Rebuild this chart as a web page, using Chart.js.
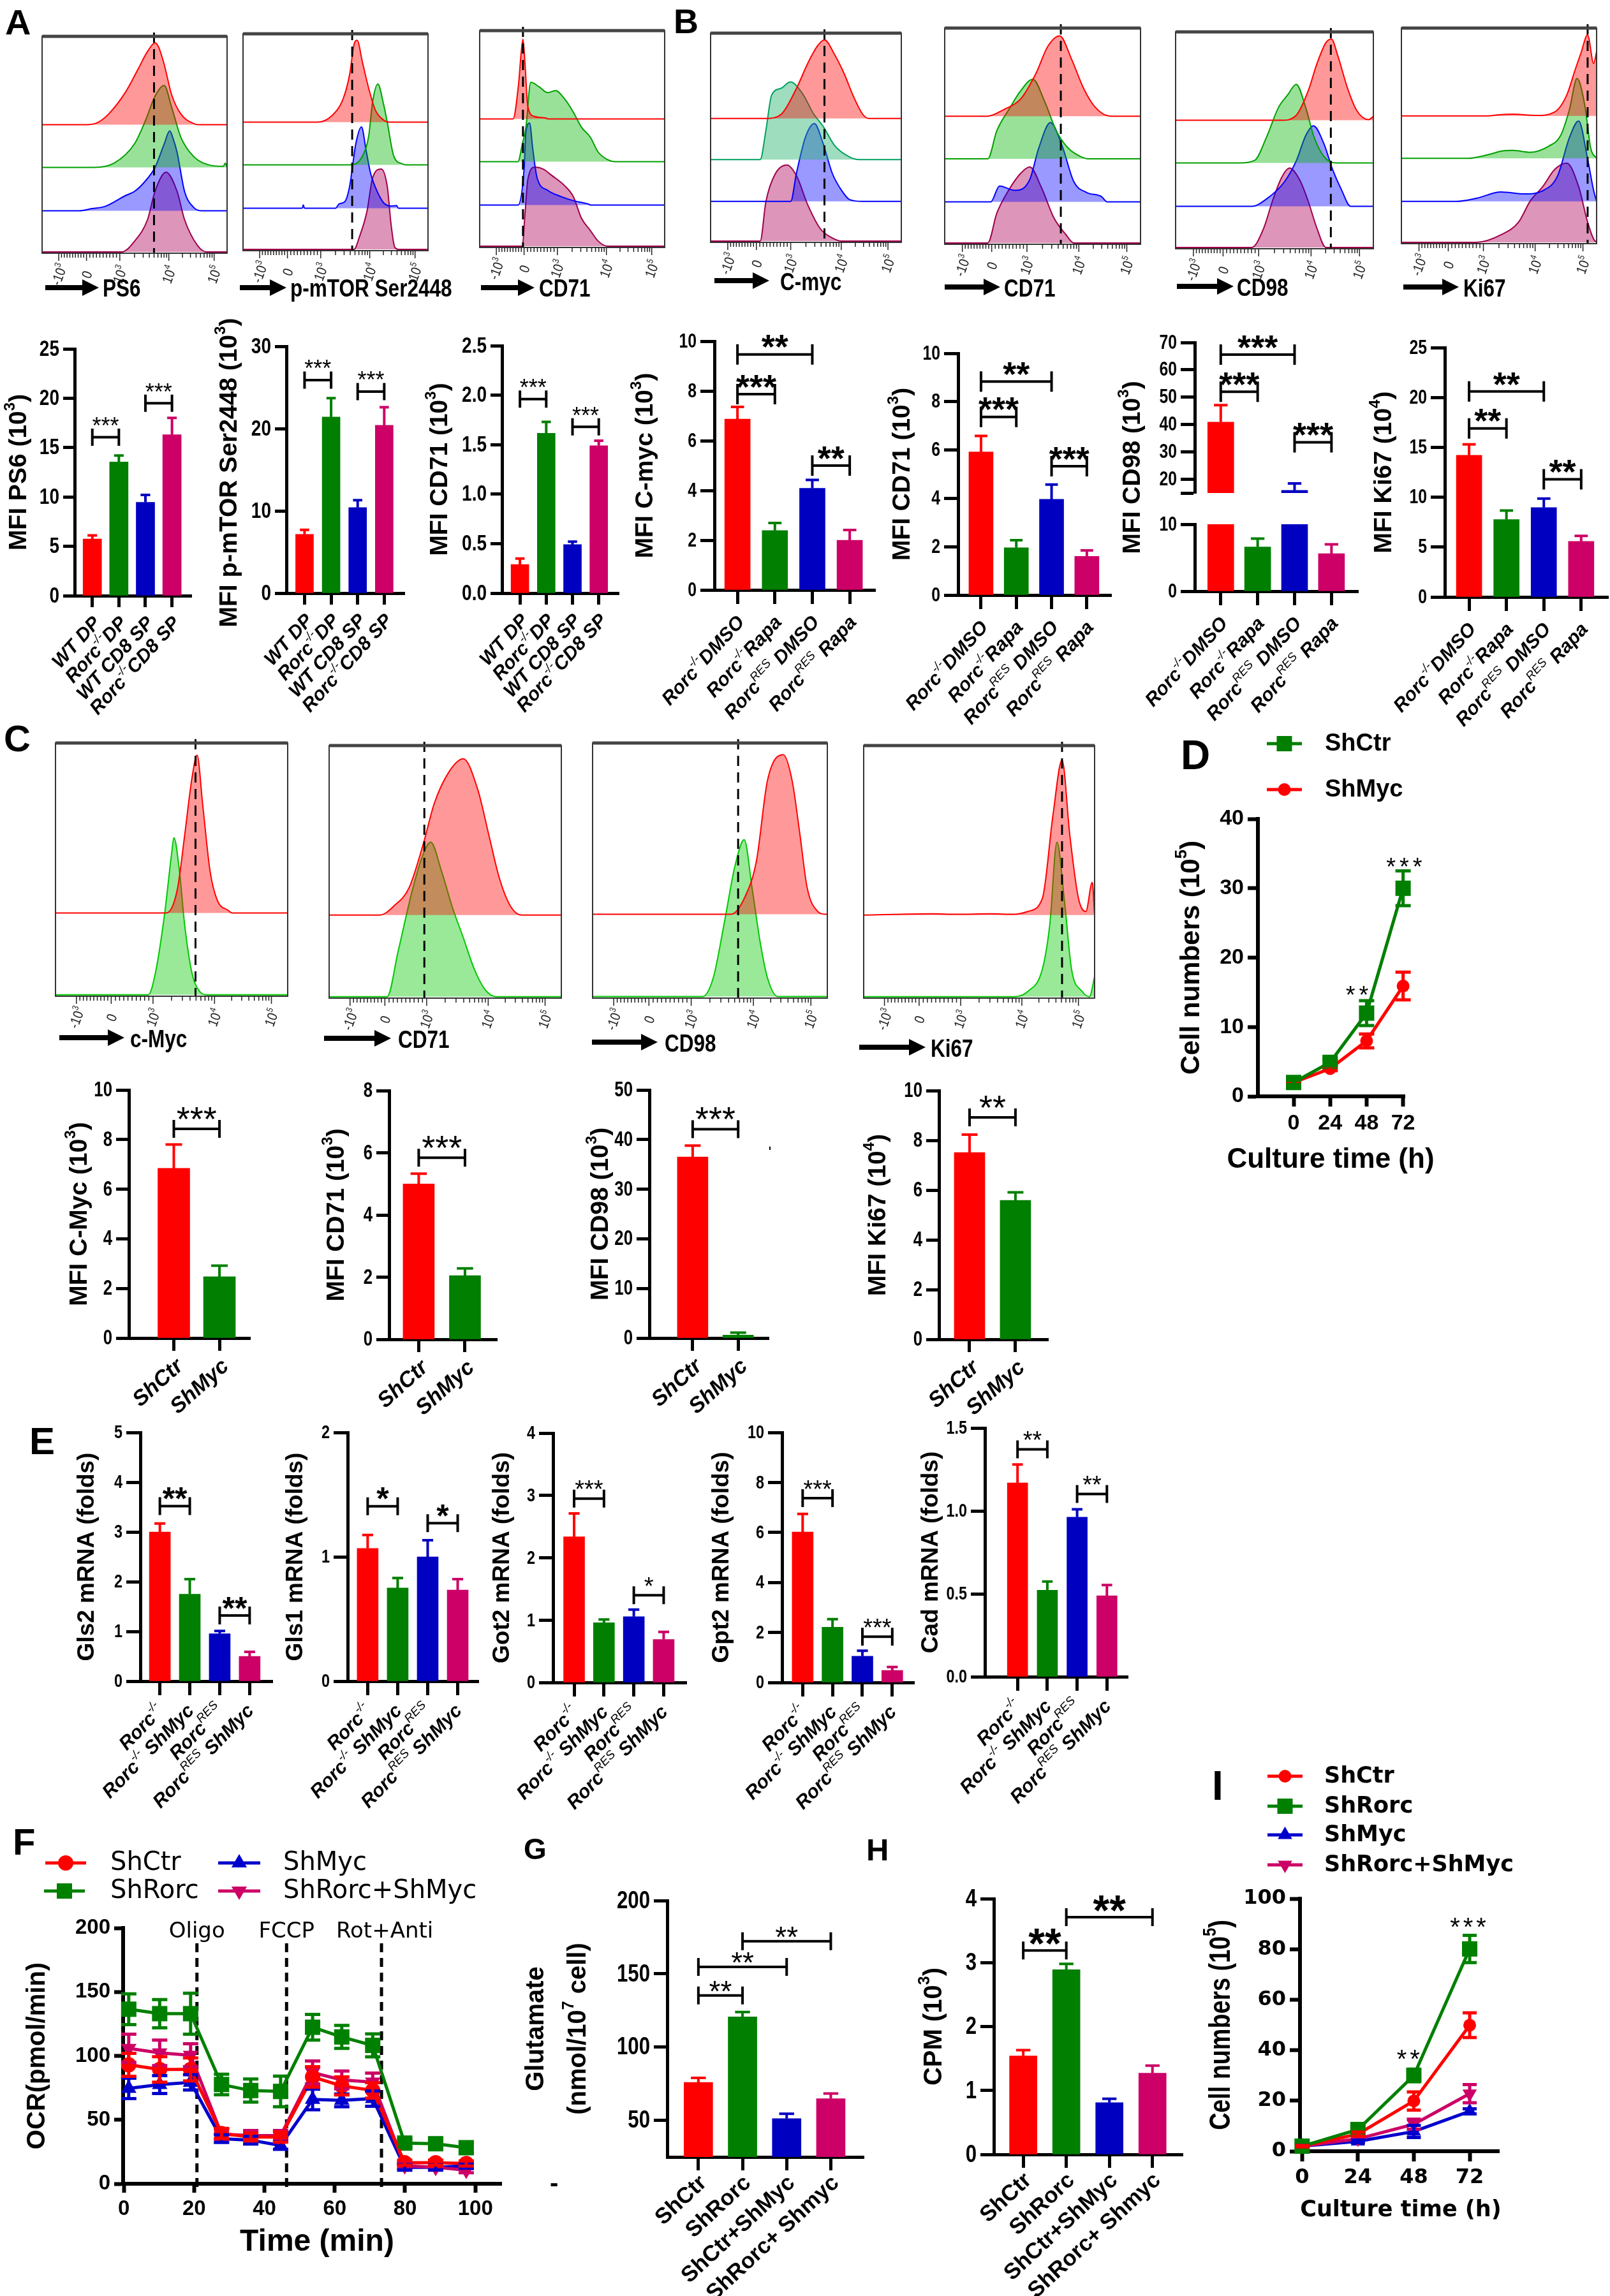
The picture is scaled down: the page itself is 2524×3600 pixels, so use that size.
<!DOCTYPE html>
<html>
<head>
<meta charset="utf-8">
<title>Rorc / Myc figure</title>
<script src="https://cdn.jsdelivr.net/npm/chart.js@4.4.1/dist/chart.umd.min.js"></script>
<style>
  html, body { margin: 0; padding: 0; background: #fff; }
  body { position: relative; width: 2524px; height: 3600px; overflow: hidden; }
  canvas { position: absolute; }
  .t { position: absolute; white-space: nowrap; line-height: 1; color: #000; }
</style>
</head>
<body>
<script>
// ================= DATA =================
// flow histograms: [x as % of frame width, height as % of frame height above the row baseline]
const flowTickLabels = ['-10^{3}', '0', '10^{3}', '10^{4}', '10^{5}'];
const flowTickPos = [9, 24, 42, 68.5, 93];

const ps6Red = [[0,0],[24,0],[30,1],[36,5],[45,15],[52,26],[57,34],[61,38],[63,36],[66,28],[70,14],[75,5],[82,0.5],[85,0],[100,0]];
const ps6Green = [[0,0],[28,0],[39,2],[50,11],[56,22],[61,33],[66,38],[70,28],[75,14],[82,5],[91,1],[98,0.5],[99,2],[100,0]];
const ps6Blue = [[0,0],[20,0],[27,1],[34,2],[45,7],[50,9],[55,13],[61,20],[66,31],[69,37],[71,33],[73,27],[77,9],[82,1.5],[86,0],[100,0]];
const ps6Pink = [[0,0],[43,0],[50,5],[57,15],[61,28],[67,37],[73,28],[77,15],[84,3],[89,0],[100,0]];

const mtorRed = [[0,0],[40,0],[48,3],[54,10.6],[57.6,22],[60,36],[61.7,38],[64.5,28],[68,15.5],[71.5,5.7],[76,1],[79,0],[100,0]];
const mtorGreen = [[0,0],[57.6,0],[64.5,4],[68,13.7],[70,29],[72.9,37.5],[76,28],[78,19.6],[81.5,4],[86,0.5],[88,0],[100,0]];
const mtorBlue = [[0,0],[32,0],[32.6,1.5],[33.2,0],[50,0],[52,2],[55,3],[57.6,10],[61,30],[64,37.7],[66.7,26],[69,16],[72.4,8],[76,2.5],[80,1],[83,1.2],[84,0],[100,0]];
const mtorPink = [[0,0],[60,0],[63,6],[67,17.6],[70,33],[74.7,37.3],[78,29],[80,11.8],[82,1],[84,0],[100,0]];

const cd71aRed = [[0,0],[18,0],[21,16],[22.4,30.5],[23.4,37],[24.5,25.6],[26,6],[29.5,1.2],[36,0.4],[37,0],[100,0]];
const cd71aGreen = [[0,0],[20.7,0],[23,8],[25,16],[27.6,36.8],[32,34.8],[36.8,32],[41,33],[46,29],[50.6,23],[55,16],[59.8,11.4],[64,4.5],[69,1],[73.5,0],[100,0]];
const cd71aBlue = [[0,0],[20.7,0],[24,16.6],[25,34],[27,38],[28.7,26],[31,12.7],[36.8,6.8],[43.7,4],[50.6,2],[58.6,0.5],[60,0],[100,0]];
const cd71aPink = [[0,0],[23,0],[24.5,15],[26,30.8],[29.9,36.7],[34.5,35.7],[39,32.8],[46,28],[50.6,23],[55,13],[59.8,7.3],[64,2.4],[69,0],[100,0]];

const cmycRed = [[0,0],[29,0],[37,2],[45,14.4],[51,26.6],[56,34.8],[59.7,37.8],[65,30.7],[70,21.6],[75,10.4],[79.6,2.2],[82.7,0],[100,0]];
const cmycGreen = [[0,0],[26,0],[29,14],[32,31],[37,34.3],[41.8,37.3],[48,32],[54,22],[59,16],[65,6.8],[73,1.2],[78,0],[100,0]];
const cmycBlue = [[0,0],[42,0],[45,13.5],[49.7,30.8],[54.4,37.4],[59,27.8],[63.8,13.5],[68.6,5.4],[73,0.8],[79.6,0],[100,0]];
const cmycPink = [[0,0],[26,0],[29,19],[34,32.5],[40,36.6],[45,31.5],[51,17.3],[57.5,6],[63.8,1.5],[68.6,0],[100,0]];

const cd71bRed = [[0,0],[22,0],[30,3],[38.8,8],[46.5,19.7],[52.6,32.4],[58.7,37.4],[64.8,26.5],[71,12.8],[77,4],[84.7,0],[100,0]];
const cd71bGreen = [[0,0],[22,0],[26.6,13],[32.7,22.8],[38.8,31.6],[45,37],[51,26.7],[57,13],[63,5],[69,1.2],[73.4,0],[100,0]];
const cd71bBlue = [[0,0],[23.5,0],[28,7.4],[35.8,5.4],[43.4,10.3],[48,25],[54,36.9],[60,26],[66,9.3],[72.5,4.4],[80,2.5],[83,0],[100,0]];
const cd71bPink = [[0,0],[22,0],[26.6,13.8],[32.7,24.6],[38.8,32.4],[43.4,35.4],[49.5,25.6],[55.7,11.8],[61.8,4],[66,0],[100,0]];

const cd98bRed = [[0,0],[53.6,0],[61,2.3],[67,13.5],[71.5,26.3],[76,36],[78.8,37.7],[82,30],[87,14.7],[91.5,4.7],[97.6,0.3],[100,1.8]];
const cd98bGreen = [[0,0],[32.4,0],[40,1.2],[46,12],[52,25.7],[56.7,31.6],[61,36.5],[65.8,25.7],[70,12],[75,3],[81,0],[100,0]];
const cd98bBlue = [[0,0],[38.5,0],[46,3.4],[55,11.3],[61,21],[65.8,32.8],[69.7,37.3],[75,29],[79.4,17],[84,7.4],[88.5,0],[100,0]];
const cd98bPink = [[0,0],[38.5,0],[44.5,8.8],[49,21.6],[53.6,32.4],[57.6,36.8],[62.7,31.4],[67,21.6],[71.5,8.8],[76,0],[100,0]];

const ki67bRed = [[0,0],[44,0],[50,0.5],[57,0.8],[69,0.2],[78.5,1.8],[84.7,9.7],[89,21.5],[92,29.4],[95.4,37.8],[98.5,24.5],[100,30]];
const ki67bGreen = [[0,0],[34,0],[44.8,1.8],[52,3.5],[57,3.7],[66,2.8],[75.5,5.7],[81.6,10.7],[86,22.5],[90,37.3],[94,24.5],[97,4.7],[100,0]];
const ki67bBlue = [[0,0],[28,0],[38.6,1.5],[51,4.4],[63,3.5],[72.4,5],[80,11.9],[86,29.6],[90.8,37.5],[95.4,19.8],[98.5,5],[100,0]];
const ki67bPink = [[0,0],[38.6,0],[51,3.5],[60,9.4],[66,19.3],[72.4,26],[78.5,34],[84.7,37],[90.8,26],[95.4,9.4],[98.5,1.5],[100,0]];

const cMycCRed = [[0,0],[47.8,0],[52.5,9.4],[55.6,30.6],[58.8,53.7],[61,62.7],[63.4,43],[66.6,16.4],[69.7,5],[74.4,1],[76,0],[100,0]];
const cMycCGreen = [[0,0],[40,0],[43,8.5],[46.9,31.4],[50,56],[51,62.4],[53.4,49],[55.6,28],[58.8,8.5],[62,1.4],[65,0],[100,0]];
const cd71CRed = [[0,0],[21.9,0],[28,3.7],[34.4,10.8],[40.6,28.5],[45.3,44.5],[51.6,57],[57.8,62.2],[64,50],[68.75,32],[73.4,14.4],[78,3.7],[82.8,0],[100,0]];
const cd71CGreen = [[0,0],[25,0],[29.7,18],[36,43],[40.6,57],[43.75,61.5],[48.4,50],[53,35.8],[57.8,23.4],[62.5,11],[67,3],[71.9,0],[100,0]];
const cd98CRed = [[0,0],[59,0],[65,7],[69.8,21],[74.5,52.7],[81.2,62.9],[85,52.7],[88.3,31.6],[91.4,10.5],[96,1],[99,0],[100,0]];
const cd98CGreen = [[0,0],[46.8,0],[51.4,7.4],[56,28.5],[60.6,51.3],[64.6,61.9],[68,42.5],[71.4,21.4],[74.5,7.4],[79,0],[100,0]];
const ki67CRed = [[0,0],[30,0.5],[40,0.3],[55,0.5],[65,0.3],[71,1.4],[77.4,6.7],[82,40],[85.9,61.7],[89.3,31.6],[93,6.7],[96.2,1.4],[99,13],[100,0]];
const ki67CGreen = [[0,0],[65,0],[71,2],[77.4,11],[80.6,28.7],[83.7,61.5],[87,37.6],[90,11],[94.7,2],[97.8,0],[100,8]];

// dashed reference lines (x in % of frame)
const flowDashA = [60.5, 59, 23.4];
const flowDashB = [59.7, 59.3, 78.5, 95.4];
const flowDashC = [60.3, 41, 62, 85.9];

// bar charts: mean, SEM, y tick values, significance [from, to, level, stars]
const grpA = ['WT DP', 'Rorc^{-/-}DP', 'WT CD8 SP', 'Rorc^{-/-}CD8 SP'];
const ps6Mean = [5.75, 13.55, 9.46, 16.3], ps6Err = [0.35, 0.65, 0.74, 1.7];
const ps6Ticks = [0, 5, 10, 15, 20, 25];
const ps6Sig = [[0, 1, 16.05, '***'], [2, 3, 19.5, '***']];
const mtorMean = [7.15, 21.4, 10.4, 20.4], mtorErr = [0.55, 2.3, 0.9, 2.2];
const mtorTicks = [0, 10, 20, 30];
const mtorSig = [[0, 1, 25.9, '***'], [2, 3, 24.5, '***']];
const cd71aMean = [0.29, 1.615, 0.49, 1.49], cd71aErr = [0.06, 0.115, 0.03, 0.05];
const cd71aTicks = [0, 0.5, 1, 1.5, 2, 2.5];
const cd71aSig = [[0, 1, 1.96, '***'], [2, 3, 1.68, '***']];

const grpB = ['Rorc^{-/-}DMSO', 'Rorc^{-/-}Rapa', 'Rorc^{RES} DMSO', 'Rorc^{RES} Rapa'];
const cmycMean = [6.87, 2.39, 4.09, 2.0], cmycErr = [0.49, 0.3, 0.33, 0.41];
const cmycTicks = [0, 2, 4, 6, 8, 10];
const cmycSig = [[0, 2, 9.47, '**'], [0, 1, 7.87, '***'], [2, 3, 5.0, '**']];
const cd71bMean = [5.92, 1.96, 3.96, 1.6], cd71bErr = [0.66, 0.31, 0.61, 0.25];
const cd71bTicks = [0, 2, 4, 6, 8, 10];
const cd71bSig = [[0, 2, 8.83, '**'], [0, 1, 7.37, '***'], [2, 3, 5.33, '***']];
const cd98bMean = [40.9, 6.6, 16.0, 5.6], cd98bErr = [6.2, 1.25, 2.5, 1.4];
const cd98bTicksLow = [0, 10], cd98bTicksHigh = [15, 20, 30, 40, 50, 60, 70];
const cd98bSig = [[0, 2, 65.6, '***'], [0, 1, 52, '***'], [2, 3, 33.5, '***']];
const ki67bMean = [14.2, 7.77, 8.96, 5.57], ki67bErr = [1.1, 0.89, 0.91, 0.56];
const ki67bTicks = [0, 5, 10, 15, 20, 25];
const ki67bSig = [[0, 2, 20.6, '**'], [0, 1, 16.9, '**'], [2, 3, 11.8, '**']];

const grpC = ['ShCtr', 'ShMyc'];
const cMycCMean = [6.84, 2.47], cMycCErr = [0.96, 0.45], cMycCTicks = [0, 2, 4, 6, 8, 10], cMycCSig = [[0, 1, 8.43, '***']];
const cd71CMean = [5.0, 2.05], cd71CErr = [0.33, 0.23], cd71CTicks = [0, 2, 4, 6, 8], cd71CSig = [[0, 1, 5.84, '***']];
const cd98CMean = [36.5, 0.6], cd98CErr = [2.3, 0.5], cd98CTicks = [0, 10, 20, 30, 40, 50], cd98CSig = [[0, 1, 42.1, '***']];
const ki67CMean = [7.51, 5.59], ki67CErr = [0.72, 0.32], ki67CTicks = [0, 2, 4, 6, 8, 10], ki67CSig = [[0, 1, 8.92, '**']];

const grpE = ['Rorc^{-/-}', 'Rorc^{-/-} ShMyc', 'Rorc^{RES}', 'Rorc^{RES} ShMyc'];
const gls2Mean = [3.0, 1.75, 0.955, 0.5], gls2Err = [0.17, 0.3, 0.055, 0.09], gls2Ticks = [0, 1, 2, 3, 4, 5];
const gls2Sig = [[0, 1, 3.52, '**'], [2, 3, 1.32, '**']];
const gls1Mean = [1.068, 0.749, 0.999, 0.733], gls1Err = [0.108, 0.081, 0.134, 0.087], gls1Ticks = [0, 1, 2];
const gls1Sig = [[0, 1, 1.407, '*'], [2, 3, 1.27, '*']];
const got2Mean = [2.336, 0.957, 1.056, 0.69], got2Err = [0.374, 0.053, 0.114, 0.12], got2Ticks = [0, 1, 2, 3, 4];
const got2Sig = [[0, 1, 2.95, '***'], [2, 3, 1.4, '*']];
const gpt2Mean = [6.02, 2.21, 1.05, 0.48], gpt2Err = [0.72, 0.32, 0.22, 0.14], gpt2Ticks = [0, 2, 4, 6, 8, 10];
const gpt2Sig = [[0, 1, 7.37, '***'], [2, 3, 1.83, '***']];
const cadMean = [1.169, 0.522, 0.962, 0.488], cadErr = [0.111, 0.052, 0.048, 0.065], cadTicks = [0, 0.5, 1, 1.5];
const cadSig = [[0, 1, 1.371, '**'], [2, 3, 1.102, '**']];

const grpGH = ['ShCtr', 'ShRorc', 'ShCtr+ShMyc', 'ShRorc+ Shmyc'];
const gluMean = [75.9, 120.6, 51.2, 64.8], gluErr = [3.1, 3.3, 3.3, 3.5], gluTicks = [50, 100, 150, 200];
const gluSig = [[0, 1, 135.2, '**'], [0, 2, 154.7, '**'], [1, 3, 172.2, '**']];
const cpmMean = [1.54, 2.89, 0.81, 1.27], cpmErr = [0.09, 0.09, 0.06, 0.12], cpmTicks = [0, 1, 2, 3, 4];
const cpmSig = [[0, 1, 3.19, '**'], [1, 3, 3.71, '**']];

// D: growth curve
const dTime = [0, 24, 48, 72];
const dShCtr = [2, 4.9, 12, 30], dShCtrErr = [0.3, 0.5, 1.8, 2.5];
const dShMyc = [2, 4, 8, 15.9], dShMycErr = [0.2, 0.3, 1.0, 2.0];
const dStars = [[43, 15.4, '**'], [74, 33.9, '***']];

// F: Seahorse OCR
const fTime = [1.4, 10.2, 19, 27.8, 36.1, 44.6, 53.7, 62, 70.8, 79.9, 88.7, 97.4];
const fShCtr = [93, 89.4, 89.4, 39.3, 36.5, 36.5, 83.5, 76.5, 73, 16.5, 16.5, 15.8];
const fShCtrErr = [9, 10, 9, 4, 3, 4, 8, 7, 6, 2, 2, 2];
const fShRorc = [136.5, 133, 133, 77.6, 72.9, 72.2, 122.4, 114.8, 108.2, 31.8, 31.3, 28.2];
const fShRorcErr = [12, 11, 16, 8, 9, 12, 10, 9, 9, 3, 3, 4];
const fShMyc = [74.6, 77.6, 79.3, 35.3, 34.1, 29.9, 65.9, 65.2, 66.6, 12.9, 12.9, 14.1];
const fShMycErr = [8, 7, 6, 3, 3, 3, 8, 5, 6, 2, 2, 2];
const fShRorcMyc = [105.9, 102.4, 100.5, 38.8, 37.6, 37.6, 87, 81.2, 79.5, 14.1, 12.9, 10.6];
const fShRorcMycErr = [11, 10, 9, 4, 4, 4, 9, 7, 7, 2, 2, 2];
const fInject = [20.8, 46.3, 73.3];
const fInjectLabels = ['Oligo', 'FCCP', 'Rot+Anti'];

// I: growth curve
const iTime = [0, 24, 48, 72];
const iShCtr = [2, 6.8, 19.9, 49.9], iShCtrErr = [0.3, 0.8, 3.6, 4.9];
const iShRorc = [2, 8.6, 30, 80.1], iShRorcErr = [0.3, 0.8, 2.5, 5.4];
const iShMyc = [2, 3.9, 7.8, 15.8], iShMycErr = [0.3, 0.5, 2.4, 1];
const iShRorcMyc = [2, 4.9, 10.7, 22.8], iShRorcMycErr = [0.3, 0.5, 2, 3.6];
const iStars = [[46.3, 38.8, '**'], [72, 91, '***']];

// ================= STYLE =================
const ARIAL = "'Liberation Sans', Arial, Helvetica, sans-serif";
const DEJAVU = "'DejaVu Sans', Verdana, sans-serif";
const barColors = ['#ff0000', '#007f00', '#0000c0', '#cc0066'];
const cRed = { line: '#ff0000', fill: 'rgba(255,0,0,0.40)' };
const cGreen = { line: '#00a000', fill: 'rgba(0,180,0,0.40)' };
const cTeal = { line: '#00a060', fill: 'rgba(40,180,110,0.45)' };
const cBlue = { line: '#0000ff', fill: 'rgba(0,0,255,0.40)' };
const cPink = { line: '#a0004a', fill: 'rgba(180,20,100,0.45)' };
const cGreenC = { line: '#00c800', fill: 'rgba(0,200,0,0.40)' };

Chart.defaults.font.family = ARIAL;
Chart.defaults.color = '#000';

// ================= HELPERS =================
function fontStr(f, size) {
  return (f.style || 'normal') + ' ' + (f.weight || 'normal') + ' ' + (size || f.size) + 'px ' + f.family;
}

// text with ^{superscript} parts; f.cond squeezes it horizontally
function drawRich(ctx, str, x, y, f, align, supWeight) {
  const segs = [];
  const re = /\^\{([^}]*)\}/g;
  let last = 0, m;
  while ((m = re.exec(str))) {
    if (m.index > last) segs.push({ t: str.slice(last, m.index), sup: false });
    segs.push({ t: m[1], sup: true });
    last = re.lastIndex;
  }
  if (last < str.length) segs.push({ t: str.slice(last), sup: false });
  const supF = Object.assign({}, f, { weight: supWeight || f.weight });
  const supSize = Math.round(f.size * 0.62);
  ctx.save();
  ctx.translate(x, y);
  if (f.cond) ctx.scale(f.cond, 1);
  let total = 0;
  segs.forEach(s => {
    ctx.font = s.sup ? fontStr(supF, supSize) : fontStr(f);
    s.w = ctx.measureText(s.t).width;
    total += s.w;
  });
  let cx = align === 'right' ? -total : align === 'center' ? -total / 2 : 0;
  ctx.textAlign = 'left';
  ctx.textBaseline = 'middle';
  segs.forEach(s => {
    ctx.font = s.sup ? fontStr(supF, supSize) : fontStr(f);
    ctx.fillText(s.t, cx, s.sup ? -f.size * 0.36 : 0);
    cx += s.w;
  });
  ctx.restore();
}

function addCanvas(plot, pad) {
  const l = Math.round(plot.l), t = Math.round(plot.t), r = Math.round(plot.r), b = Math.round(plot.b);
  const c = document.createElement('canvas');
  const w = r - l + pad.l + pad.r, h = b - t + pad.t + pad.b;
  c.width = w; c.height = h;
  c.style.left = (l - pad.l) + 'px';
  c.style.top = (t - pad.t) + 'px';
  c.style.width = w + 'px';
  c.style.height = h + 'px';
  document.body.appendChild(c);
  return { c, off: { x: l - pad.l, y: t - pad.t } };
}

function axisStyle(len, w) {
  return {
    grid: { drawOnChartArea: false, drawTicks: true, tickLength: len, tickWidth: w, tickColor: '#000', offset: false },
    border: { display: true, width: w, color: '#000' }
  };
}

function drawYTitle(ctx, p, off, a) {
  const lines = p.titleLines || (p.title ? [{ text: p.title, x: p.titleX }] : []);
  const cy = p.titleY !== undefined ? p.titleY - off.y : (a.top + a.bottom) / 2;
  lines.forEach(L => {
    ctx.save();
    ctx.translate(L.x - off.x, cy);
    ctx.rotate(-Math.PI / 2);
    ctx.fillStyle = '#000';
    drawRich(ctx, L.text, 0, 0, p.titleFont, 'center');
    ctx.restore();
  });
}

function drawStars(ctx, text, x, yc, font, spacing) {
  const size = parseFloat(font.match(/(\d+)px/)[1]);
  ctx.save();
  ctx.fillStyle = '#000';
  ctx.font = font;
  if (spacing) ctx.letterSpacing = spacing;
  ctx.textAlign = 'center';
  ctx.textBaseline = 'alphabetic';
  ctx.fillText(text, x, yc + size * 0.57);
  ctx.restore();
}

// ================= BAR CHARTS =================
function barDeco(p, off) {
  return {
    id: 'barDeco',
    afterDatasetsDraw(chart) {
      const { ctx, chartArea: a, scales: { x, y } } = chart;
      const cols = p.colors || barColors;
      ctx.save();
      ctx.beginPath();
      ctx.rect(a.left, a.top - 3, a.right - a.left, a.bottom - a.top + 3);
      ctx.clip();
      ctx.lineWidth = 4;
      p.mean.forEach((m, i) => {
        const e = p.err[i];
        const cx = x.getPixelForValue(i + 1), y0 = y.getPixelForValue(m), y1 = y.getPixelForValue(m + e);
        const hw = p.barW * 0.26;
        ctx.strokeStyle = cols[i];
        ctx.beginPath();
        ctx.moveTo(cx, y0); ctx.lineTo(cx, y1);
        ctx.moveTo(cx - hw, y1); ctx.lineTo(cx + hw, y1);
        ctx.stroke();
      });
      ctx.restore();
      (p.sig || []).forEach(([i, j, v, stars]) => {
        const xi = x.getPixelForValue(i + 1), xj = x.getPixelForValue(j + 1), yy = y.getPixelForValue(v);
        ctx.save();
        ctx.strokeStyle = '#000';
        ctx.lineWidth = 4;
        ctx.beginPath();
        ctx.moveTo(xi, yy); ctx.lineTo(xj, yy);
        ctx.moveTo(xi, yy - p.capH); ctx.lineTo(xi, yy + p.capH);
        ctx.moveTo(xj, yy - p.capH); ctx.lineTo(xj, yy + p.capH);
        ctx.stroke();
        ctx.restore();
        drawStars(ctx, stars, (xi + xj) / 2, yy - p.starDy, p.starFont);
      });
    },
    afterDraw(chart) {
      const { ctx, chartArea: a, scales: { x, y } } = chart;
      // condensed y tick labels
      const fmt = p.fmt || (v => String(v));
      p.ticks.forEach(v => {
        ctx.save();
        ctx.fillStyle = '#000';
        drawRich(ctx, String(fmt(v)), a.left - p.tickLen - 6, y.getPixelForValue(v) + 1, p.tickFont, 'right');
        ctx.restore();
      });
      if (!p.noLabels) {
        p.cats.forEach((lab, i) => {
          ctx.save();
          ctx.translate(x.getPixelForValue(i + 1) + p.labelDx, a.bottom + p.labelDy);
          ctx.rotate(-p.labelAngle * Math.PI / 180);
          ctx.fillStyle = '#000';
          drawRich(ctx, lab, 0, 0, p.labelFont, 'right', 'normal');
          ctx.restore();
        });
      }
      drawYTitle(ctx, p, off, a);
    }
  };
}

function barPanel(p) {
  const pad = { l: 240, t: 160, r: 40, b: 300 };
  const YW = 110, XH = 30;
  const { c, off } = addCanvas(p.plot, pad);
  const ax = axisStyle(p.tickLen, 5);
  new Chart(c, {
    type: 'bar',
    data: {
      datasets: [{
        data: p.mean.map((v, i) => ({ x: i + 1, y: v })),
        backgroundColor: p.colors || barColors,
        barThickness: p.barW,
        borderWidth: 0,
        clip: 0
      }]
    },
    options: {
      responsive: false, animation: false, events: [], devicePixelRatio: 1,
      layout: { padding: { left: pad.l - YW, top: pad.t, right: pad.r, bottom: pad.b - XH } },
      plugins: { legend: { display: false }, tooltip: { enabled: false } },
      scales: {
        x: {
          type: 'linear', min: p.xmin, max: p.xmax, offset: false,
          afterBuildTicks: s => { s.ticks = p.cats.map((_, i) => ({ value: i + 1 })); },
          afterFit: s => { s.height = XH; },
          ticks: { display: false },
          grid: p.noX ? { display: false } : ax.grid,
          border: p.noX ? { display: false } : ax.border
        },
        y: {
          type: 'linear', min: p.ymin, max: p.ymax,
          afterBuildTicks: s => { s.ticks = p.ticks.map(v => ({ value: v })); },
          afterFit: s => { s.width = YW; },
          ticks: { display: false },
          grid: ax.grid, border: ax.border
        }
      }
    },
    plugins: [barDeco(p, off)]
  });
}

// ================= FLOW HISTOGRAMS =================
function flowDeco(p) {
  return {
    id: 'flowDeco',
    afterDraw(chart) {
      const { ctx, chartArea: a, scales: { x } } = chart;
      ctx.save();
      ctx.strokeStyle = '#000';
      ctx.lineWidth = 3;
      ctx.setLineDash([16, 10]);
      const dx = x.getPixelForValue(p.dash);
      ctx.beginPath(); ctx.moveTo(dx, a.top - 6); ctx.lineTo(dx, a.bottom); ctx.stroke();
      ctx.setLineDash([]);
      ctx.strokeStyle = '#333';
      ctx.lineWidth = 2;
      ctx.strokeRect(a.left, a.top, a.right - a.left, a.bottom - a.top);
      ctx.strokeStyle = '#444';
      ctx.lineWidth = 5;
      ctx.beginPath(); ctx.moveTo(a.left, a.top); ctx.lineTo(a.right, a.top); ctx.stroke();
      // axis ticks
      ctx.strokeStyle = '#222';
      ctx.lineWidth = 1.5;
      const minor = [];
      for (let k = 1; k <= 9; k++) minor.push(24 - 1.5 * k, 24 + 1.8 * k);
      for (let k = 2; k <= 9; k++) minor.push(42 + 26.5 * Math.log10(k), 68.5 + 24.5 * Math.log10(k));
      ctx.beginPath();
      minor.forEach(v => { const px = x.getPixelForValue(v); ctx.moveTo(px, a.bottom); ctx.lineTo(px, a.bottom + 7); });
      flowTickPos.forEach(v => { const px = x.getPixelForValue(v); ctx.moveTo(px, a.bottom); ctx.lineTo(px, a.bottom + 12); });
      ctx.stroke();
      flowTickLabels.forEach((lab, i) => {
        ctx.save();
        ctx.translate(x.getPixelForValue(flowTickPos[i]) + 2, a.bottom + 34);
        ctx.rotate(-70 * Math.PI / 180);
        ctx.fillStyle = '#222';
        drawRich(ctx, lab, 0, 0, { weight: 'normal', size: 22, family: ARIAL, cond: 0.85 }, 'center');
        ctx.restore();
      });
      ctx.restore();
    }
  };
}

function flowPanel(p) {
  const pad = { l: 20, t: 30, r: 20, b: 70 };
  const { c } = addCanvas(p.plot, pad);
  new Chart(c, {
    type: 'line',
    data: {
      datasets: p.curves.map(cv => ({
        data: cv.pts.map(([x, h]) => ({ x: x, y: cv.base + h })),
        borderColor: cv.col.line,
        backgroundColor: cv.col.fill,
        borderWidth: 2,
        pointRadius: 0,
        fill: { value: cv.base },
        cubicInterpolationMode: 'monotone'
      }))
    },
    options: {
      responsive: false, animation: false, events: [], devicePixelRatio: 1,
      layout: { padding: { left: pad.l, top: pad.t, right: pad.r, bottom: pad.b } },
      plugins: { legend: { display: false }, tooltip: { enabled: false } },
      scales: {
        x: { type: 'linear', display: false, min: 0, max: 100 },
        y: { type: 'linear', display: false, min: -0.6, max: 100 }
      }
    },
    plugins: [flowDeco(p)]
  });
}

// ================= LINE CHARTS =================
function drawMarker(ctx, style, x, y, r, rot, color) {
  ctx.fillStyle = color;
  ctx.beginPath();
  if (style === 'circle') {
    ctx.arc(x, y, r, 0, Math.PI * 2);
  } else if (style === 'rect') {
    const s = Math.SQRT1_2 * r;
    ctx.rect(x - s, y - s, 2 * s, 2 * s);
  } else {
    let rad = (rot || 0) * Math.PI / 180;
    ctx.moveTo(x + Math.sin(rad) * r, y - Math.cos(rad) * r);
    rad += 2 * Math.PI / 3;
    ctx.lineTo(x + Math.sin(rad) * r, y - Math.cos(rad) * r);
    rad += 2 * Math.PI / 3;
    ctx.lineTo(x + Math.sin(rad) * r, y - Math.cos(rad) * r);
    ctx.closePath();
  }
  ctx.fill();
}

function lineDeco(p, off) {
  return {
    id: 'lineDeco',
    beforeDatasetsDraw(chart) {
      if (!p.vlines) return;
      const { ctx, scales: { x, y } } = chart;
      ctx.save();
      ctx.strokeStyle = '#000';
      ctx.lineWidth = 5;
      ctx.setLineDash([14, 9]);
      p.vlines.forEach(v => {
        const px = x.getPixelForValue(v);
        ctx.beginPath(); ctx.moveTo(px, y.getPixelForValue(p.vlineTop)); ctx.lineTo(px, y.getPixelForValue(-3)); ctx.stroke();
      });
      ctx.restore();
    },
    afterDatasetsDraw(chart) {
      const { ctx, scales: { x, y } } = chart;
      ctx.save();
      ctx.lineWidth = p.errW;
      p.series.slice().reverse().forEach(s => {
        ctx.strokeStyle = s.color;
        s.err.forEach((e, i) => {
          const cx = x.getPixelForValue(p.time[i]);
          const y1 = y.getPixelForValue(s.y[i] + e), y2 = y.getPixelForValue(s.y[i] - e);
          ctx.beginPath();
          ctx.moveTo(cx, y1); ctx.lineTo(cx, y2);
          ctx.moveTo(cx - p.capW, y1); ctx.lineTo(cx + p.capW, y1);
          ctx.moveTo(cx - p.capW, y2); ctx.lineTo(cx + p.capW, y2);
          ctx.stroke();
        });
      });
      ctx.restore();
      (p.stars || []).forEach(([sx, sy, t]) => drawStars(ctx, t, x.getPixelForValue(sx), y.getPixelForValue(sy), p.starFont, p.starSpacing));
    },
    afterDraw(chart) {
      const { ctx, chartArea: a, scales: { x, y } } = chart;
      drawYTitle(ctx, p, off, a);
      ctx.save();
      ctx.fillStyle = '#000';
      ctx.textAlign = 'center';
      ctx.textBaseline = 'middle';
      ctx.font = fontStr(p.xTitleFont);
      ctx.fillText(p.xTitle, p.xTitleX - off.x, p.xTitleY - off.y);
      if (p.vlines) {
        ctx.font = p.vlineFont;
        p.vlines.forEach((v, i) => ctx.fillText(fInjectLabels[i], x.getPixelForValue(v) + (i === 2 ? 5 : 0), y.getPixelForValue(p.vlineLabelY)));
      }
      p.legend.forEach(L => {
        const s = p.series[L.i];
        const yy = L.y - off.y;
        ctx.strokeStyle = s.color;
        ctx.lineWidth = p.lineW;
        ctx.beginPath(); ctx.moveTo(L.x1 - off.x, yy); ctx.lineTo(L.x2 - off.x, yy); ctx.stroke();
        drawMarker(ctx, s.style, (L.x1 + L.x2) / 2 - off.x, yy, s.r, s.rot, s.color);
        ctx.fillStyle = '#000';
        ctx.font = p.legendFont;
        ctx.textAlign = 'left';
        ctx.fillText(s.label, L.tx - off.x, yy + 1);
      });
      ctx.restore();
    }
  };
}

function linePanel(p) {
  const pad = { l: 230, t: 280, r: 120, b: 190 };
  const YW = 110, XH = 60;
  const { c, off } = addCanvas(p.plot, pad);
  const ax = axisStyle(p.tickLen, 6);
  new Chart(c, {
    type: 'line',
    data: {
      datasets: p.series.map(s => ({
        data: p.time.map((t, i) => ({ x: t, y: s.y[i] })),
        borderColor: s.color, backgroundColor: s.color, borderWidth: p.lineW,
        pointStyle: s.style, pointRotation: s.rot || 0, pointRadius: s.r,
        pointBackgroundColor: s.color, pointBorderColor: s.color, pointBorderWidth: 0,
        tension: 0, fill: false, clip: false, order: s.order || 0
      }))
    },
    options: {
      responsive: false, animation: false, events: [], devicePixelRatio: 1,
      layout: { padding: { left: pad.l - YW, top: pad.t, right: pad.r, bottom: pad.b - XH } },
      plugins: { legend: { display: false }, tooltip: { enabled: false } },
      scales: {
        x: {
          type: 'linear', min: p.xmin, max: p.xmax,
          afterBuildTicks: s => { s.ticks = p.xTicks.map(v => ({ value: v })); },
          afterFit: s => { s.height = XH; },
          ticks: { font: p.tickFont, color: '#000', padding: 6, maxRotation: 0, autoSkip: false },
          grid: ax.grid, border: ax.border
        },
        y: {
          type: 'linear', min: p.ymin, max: p.ymax,
          afterBuildTicks: s => { s.ticks = p.yTicks.map(v => ({ value: v })); },
          afterFit: s => { s.width = YW; },
          ticks: { font: p.tickFont, color: '#000', padding: 6, autoSkip: false },
          grid: ax.grid, border: ax.border
        }
      }
    },
    plugins: [lineDeco(p, off)]
  });
}

// ================= HTML TEXT =================
function txt(s, x, y, css) {
  const d = document.createElement('div');
  d.className = 't';
  d.textContent = s;
  d.style.cssText += 'left:' + x + 'px;top:' + y + 'px;' + css;
  document.body.appendChild(d);
  return d;
}
function letter(s, x, capTop, size) {
  txt(s, x, Math.round(capTop - 0.19 * size), 'font:bold ' + size + 'px ' + ARIAL);
}
function arrowLabel(x1, x2, y, text, tx, ty) {
  const shaft = document.createElement('div');
  shaft.style.cssText = 'position:absolute;background:#000;left:' + x1 + 'px;top:' + (y - 4) + 'px;width:' + (x2 - x1 - 22) + 'px;height:8px';
  document.body.appendChild(shaft);
  const head = document.createElement('div');
  head.style.cssText = 'position:absolute;width:0;height:0;left:' + (x2 - 26) + 'px;top:' + (y - 13) + 'px;border-top:13px solid transparent;border-bottom:13px solid transparent;border-left:26px solid #000';
  document.body.appendChild(head);
  txt(text, tx, ty, 'font:bold 38px ' + ARIAL + ';transform-origin:0 50%;transform:translateY(-52%) scaleX(0.83)');
}

// ================= BUILD =================
const rows4 = [59, 39.2, 19.1, 0];
const rows2 = [32.5, 0];

// A histograms
flowPanel({ plot: { l: 66, t: 57, r: 356, b: 397 }, dash: flowDashA[0], curves: [
  { pts: ps6Red, col: cRed, base: rows4[0] }, { pts: ps6Green, col: cGreen, base: rows4[1] },
  { pts: ps6Blue, col: cBlue, base: rows4[2] }, { pts: ps6Pink, col: cPink, base: rows4[3] }] });
flowPanel({ plot: { l: 381, t: 53, r: 671, b: 393 }, dash: flowDashA[1], curves: [
  { pts: mtorRed, col: cRed, base: rows4[0] }, { pts: mtorGreen, col: cGreen, base: rows4[1] },
  { pts: mtorBlue, col: cBlue, base: rows4[2] }, { pts: mtorPink, col: cPink, base: rows4[3] }] });
flowPanel({ plot: { l: 752, t: 48, r: 1042, b: 388 }, dash: flowDashA[2], curves: [
  { pts: cd71aRed, col: cRed, base: rows4[0] }, { pts: cd71aGreen, col: cGreen, base: rows4[1] },
  { pts: cd71aBlue, col: cBlue, base: rows4[2] }, { pts: cd71aPink, col: cPink, base: rows4[3] }] });
// B histograms
flowPanel({ plot: { l: 1114, t: 52, r: 1413, b: 380 }, dash: flowDashB[0], curves: [
  { pts: cmycRed, col: cRed, base: rows4[0] }, { pts: cmycGreen, col: cTeal, base: rows4[1] },
  { pts: cmycBlue, col: cBlue, base: rows4[2] }, { pts: cmycPink, col: cPink, base: rows4[3] }] });
flowPanel({ plot: { l: 1481, t: 44, r: 1788, b: 383 }, dash: flowDashB[1], curves: [
  { pts: cd71bRed, col: cRed, base: rows4[0] }, { pts: cd71bGreen, col: cGreen, base: rows4[1] },
  { pts: cd71bBlue, col: cBlue, base: rows4[2] }, { pts: cd71bPink, col: cPink, base: rows4[3] }] });
flowPanel({ plot: { l: 1843, t: 50, r: 2153, b: 390 }, dash: flowDashB[2], curves: [
  { pts: cd98bRed, col: cRed, base: rows4[0] }, { pts: cd98bGreen, col: cGreen, base: rows4[1] },
  { pts: cd98bBlue, col: cBlue, base: rows4[2] }, { pts: cd98bPink, col: cPink, base: rows4[3] }] });
flowPanel({ plot: { l: 2197, t: 44, r: 2503, b: 382 }, dash: flowDashB[3], curves: [
  { pts: ki67bRed, col: cRed, base: rows4[0] }, { pts: ki67bGreen, col: cGreen, base: rows4[1] },
  { pts: ki67bBlue, col: cBlue, base: rows4[2] }, { pts: ki67bPink, col: cPink, base: rows4[3] }] });
// C histograms
flowPanel({ plot: { l: 87, t: 1165, r: 451, b: 1562 }, dash: flowDashC[0], curves: [
  { pts: cMycCRed, col: cRed, base: rows2[0] }, { pts: cMycCGreen, col: cGreenC, base: rows2[1] }] });
flowPanel({ plot: { l: 516, t: 1169, r: 880, b: 1565 }, dash: flowDashC[1], curves: [
  { pts: cd71CRed, col: cRed, base: rows2[0] }, { pts: cd71CGreen, col: cGreenC, base: rows2[1] }] });
flowPanel({ plot: { l: 929, t: 1165, r: 1297, b: 1565 }, dash: flowDashC[2], curves: [
  { pts: cd98CRed, col: cRed, base: rows2[0] }, { pts: cd98CGreen, col: cGreenC, base: rows2[1] }] });
flowPanel({ plot: { l: 1354, t: 1169, r: 1716, b: 1565 }, dash: flowDashC[3], curves: [
  { pts: ki67CRed, col: cRed, base: rows2[0] }, { pts: ki67CGreen, col: cGreenC, base: rows2[1] }] });

// A bars
const stA = { tickFont: { family: ARIAL, size: 35, weight: 'bold', cond: 0.8 },
  labelFont: { style: 'italic', weight: 'bold', size: 30, family: ARIAL }, labelAngle: 48, labelDx: 8, labelDy: 38,
  titleFont: { weight: 'bold', size: 39, family: ARIAL }, starFont: 'normal 36px ' + ARIAL, starDy: 26, capH: 13.5, tickLen: 18, ymin: 0 };
barPanel(Object.assign({}, stA, { plot: { l: 117, t: 547, r: 300, b: 934 }, xmin: 0.334, xmax: 4.73, barW: 29,
  cats: grpA, mean: ps6Mean, err: ps6Err, ticks: ps6Ticks, ymax: 25, sig: ps6Sig, title: 'MFI PS6 (10^{3})', titleX: 30 }));
barPanel(Object.assign({}, stA, { plot: { l: 449, t: 543, r: 634, b: 930 }, xmin: 0.317, xmax: 4.76, barW: 28,
  cats: grpA, mean: mtorMean, err: mtorErr, ticks: mtorTicks, ymax: 30, sig: mtorSig, title: 'MFI p-mTOR Ser2448 (10^{3})', titleX: 360, titleY: 741 }));
barPanel(Object.assign({}, stA, { plot: { l: 787, t: 542, r: 970, b: 930 }, xmin: 0.317, xmax: 4.76, barW: 28,
  cats: grpA, mean: cd71aMean, err: cd71aErr, ticks: cd71aTicks, ymax: 2.5, sig: cd71aSig, fmt: v => v.toFixed(1), title: 'MFI CD71 (10^{3})', titleX: 690 }));

// B bars
const stB = { tickFont: { family: ARIAL, size: 31, weight: 'bold', cond: 0.8 },
  labelFont: { style: 'italic', weight: 'bold', size: 30, family: ARIAL }, labelAngle: 48, labelDx: 6, labelDy: 46,
  titleFont: { weight: 'bold', size: 39, family: ARIAL }, starFont: 'bold 54px ' + ARIAL, starDy: 24, capH: 16, tickLen: 22, ymin: 0 };
barPanel(Object.assign({}, stB, { plot: { l: 1120, t: 535, r: 1372, b: 925 }, xmin: 0.384, xmax: 4.68, barW: 40,
  cats: grpB, mean: cmycMean, err: cmycErr, ticks: cmycTicks, ymax: 10, sig: cmycSig, title: 'MFI C-myc (10^{3})', titleX: 1012 }));
barPanel(Object.assign({}, stB, { plot: { l: 1502, t: 554, r: 1742, b: 933 }, xmin: 0.35, xmax: 4.69, barW: 38,
  cats: grpB, mean: cd71bMean, err: cd71bErr, ticks: cd71bTicks, ymax: 10, sig: cd71bSig, title: 'MFI CD71 (10^{3})', titleX: 1415 }));
barPanel(Object.assign({}, stB, { plot: { l: 1873, t: 822, r: 2129, b: 927 }, xmin: 0.295, xmax: 4.72, barW: 41,
  cats: grpB, mean: cd98bMean, err: cd98bErr, ticks: cd98bTicksLow, ymax: 10 }));
barPanel(Object.assign({}, stB, { plot: { l: 1873, t: 537, r: 2129, b: 773 }, xmin: 0.295, xmax: 4.72, barW: 41, noX: true, noLabels: true,
  cats: grpB, mean: cd98bMean, err: cd98bErr, ticks: cd98bTicksHigh, ymin: 15, ymax: 70, sig: cd98bSig, fmt: v => (v === 15 ? '' : v),
  title: 'MFI CD98 (10^{3})', titleX: 1776, titleY: 733 }));
barPanel(Object.assign({}, stB, { plot: { l: 2265, t: 545, r: 2521, b: 936 }, xmin: 0.35, xmax: 4.72, barW: 40,
  cats: grpB, mean: ki67bMean, err: ki67bErr, ticks: ki67bTicks, ymax: 25, sig: ki67bSig, title: 'MFI Ki67 (10^{4})', titleX: 2170 }));

// C bars
const stC = { tickFont: { family: ARIAL, size: 33, weight: 'bold', cond: 0.78 },
  labelFont: { style: 'italic', weight: 'bold', size: 34, family: ARIAL }, labelAngle: 42, labelDx: 10, labelDy: 40,
  titleFont: { weight: 'bold', size: 39, family: ARIAL }, starFont: 'normal 54px ' + ARIAL, starDy: 28, capH: 14, tickLen: 20, ymin: 0 };
barPanel(Object.assign({}, stC, { plot: { l: 202, t: 1709, r: 392, b: 2098 }, xmin: 0.015, xmax: 2.67, barW: 50,
  cats: grpC, mean: cMycCMean, err: cMycCErr, ticks: cMycCTicks, ymax: 10, sig: cMycCSig, title: 'MFI C-Myc (10^{3})', titleX: 125 }));
barPanel(Object.assign({}, stC, { plot: { l: 610, t: 1710, r: 779, b: 2100 }, xmin: 0.36, xmax: 2.69, barW: 49,
  cats: grpC, mean: cd71CMean, err: cd71CErr, ticks: cd71CTicks, ymax: 8, sig: cd71CSig, title: 'MFI CD71 (10^{3})', titleX: 528 }));
barPanel(Object.assign({}, stC, { plot: { l: 1018, t: 1709, r: 1205, b: 2098 }, xmin: 0.048, xmax: 2.67, barW: 48,
  cats: grpC, mean: cd98CMean, err: cd98CErr, ticks: cd98CTicks, ymax: 50, sig: cd98CSig, title: 'MFI CD98 (10^{3})', titleX: 942 }));
barPanel(Object.assign({}, stC, { plot: { l: 1472, t: 1710, r: 1643, b: 2100 }, xmin: 0.333, xmax: 2.71, barW: 48,
  cats: grpC, mean: ki67CMean, err: ki67CErr, ticks: ki67CTicks, ymax: 10, sig: ki67CSig, title: 'MFI Ki67 (10^{4})', titleX: 1377 }));

// E bars
const stE = { tickFont: { family: ARIAL, size: 30, weight: 'bold', cond: 0.78 },
  labelFont: { style: 'italic', weight: 'bold', size: 30, family: ARIAL }, labelAngle: 46, labelDx: 2, labelDy: 42,
  titleFont: { weight: 'bold', size: 37, family: ARIAL }, starDy: 23, capH: 14, tickLen: 22, ymin: 0, barW: 33 };
const bigStar = 'bold 50px ' + ARIAL, smallStar = 'normal 38px ' + ARIAL;
barPanel(Object.assign({}, stE, { plot: { l: 220, t: 2246, r: 427, b: 2636 }, xmin: 0.347, xmax: 4.76, starFont: bigStar,
  cats: grpE, mean: gls2Mean, err: gls2Err, ticks: gls2Ticks, ymax: 5, sig: gls2Sig, title: 'Gls2 mRNA (folds)', titleX: 137 }));
barPanel(Object.assign({}, stE, { plot: { l: 545, t: 2246, r: 750, b: 2636 }, xmin: 0.333, xmax: 4.69, starFont: bigStar,
  cats: grpE, mean: gls1Mean, err: gls1Err, ticks: gls1Ticks, ymax: 2, sig: gls1Sig, title: 'Gls1 mRNA (folds)', titleX: 464 }));
barPanel(Object.assign({}, stE, { plot: { l: 867, t: 2247, r: 1076, b: 2638 }, xmin: 0.294, xmax: 4.76, starFont: smallStar,
  cats: grpE, mean: got2Mean, err: got2Err, ticks: got2Ticks, ymax: 4, sig: got2Sig, title: 'Got2 mRNA (folds)', titleX: 788 }));
barPanel(Object.assign({}, stE, { plot: { l: 1226, t: 2246, r: 1433, b: 2638 }, xmin: 0.31, xmax: 4.73, starFont: smallStar,
  cats: grpE, mean: gpt2Mean, err: gpt2Err, ticks: gpt2Ticks, ymax: 10, sig: gpt2Sig, title: 'Gpt2 mRNA (folds)', titleX: 1132 }));
barPanel(Object.assign({}, stE, { plot: { l: 1544, t: 2239, r: 1768, b: 2629 }, xmin: -0.096, xmax: 4.7, barW: 32, starFont: smallStar,
  cats: grpE, mean: cadMean, err: cadErr, ticks: cadTicks, ymax: 1.5, sig: cadSig, fmt: v => v.toFixed(1), title: 'Cad mRNA (folds)', titleX: 1460 }));

// G, H bars
const stGH = { tickFont: { family: ARIAL, size: 39, weight: 'bold', cond: 0.8 },
  labelFont: { weight: 'bold', size: 35, family: ARIAL }, labelAngle: 43, labelDx: 8, labelDy: 36,
  titleFont: { weight: 'bold', size: 40, family: ARIAL }, capH: 14, tickLen: 21 };
barPanel(Object.assign({}, stGH, { plot: { l: 1046, t: 2980, r: 1354, b: 3382 }, xmin: 0.294, xmax: 4.745, barW: 45,
  cats: grpGH, mean: gluMean, err: gluErr, ticks: gluTicks, ymin: 25, ymax: 200, sig: gluSig,
  starFont: 'normal 46px ' + ARIAL, starDy: 17,
  titleLines: [{ text: 'Glutamate', x: 841 }, { text: '(nmol/10^{7} cell)', x: 907 }] }));
barPanel(Object.assign({}, stGH, { plot: { l: 1558, t: 2977, r: 1854, b: 3378 }, xmin: 0.317, xmax: 4.70, barW: 43,
  cats: grpGH, mean: cpmMean, err: cpmErr, ticks: cpmTicks, ymin: 0, ymax: 4, sig: cpmSig,
  starFont: 'bold 66px ' + ARIAL, starDy: 26, title: 'CPM (10^{3})', titleX: 1465 }));

// D growth
linePanel({
  plot: { l: 1972, t: 1284, r: 2202, b: 1719 }, xmin: -23.5, xmax: 73, ymin: 0, ymax: 40,
  xTicks: [0, 24, 48, 72], yTicks: [0, 10, 20, 30, 40], time: dTime,
  series: [
    { label: 'ShCtr', y: dShCtr, err: dShCtrErr, color: '#007f00', style: 'rect', r: 17, order: 0 },
    { label: 'ShMyc', y: dShMyc, err: dShMycErr, color: '#ff0000', style: 'circle', r: 10, order: 1 }],
  lineW: 5, errW: 5, capW: 12, tickLen: 16,
  tickFont: { family: ARIAL, size: 34, weight: 'bold' },
  stars: dStars, starFont: 'normal 38px ' + ARIAL, starSpacing: '6px',
  title: 'Cell numbers (10^{5})', titleX: 1868, titleFont: { weight: 'bold', size: 42, family: ARIAL },
  xTitle: 'Culture time (h)', xTitleX: 2086, xTitleY: 1819, xTitleFont: { weight: 'bold', size: 44, family: ARIAL },
  legend: [{ i: 0, x1: 1986, x2: 2041, y: 1166, tx: 2077 }, { i: 1, x1: 1986, x2: 2041, y: 1238, tx: 2077 }],
  legendFont: 'bold 38px ' + ARIAL
});

// F OCR
linePanel({
  plot: { l: 193, t: 3023, r: 786, b: 3424 }, xmin: -0.2, xmax: 107.4, ymin: 0, ymax: 200,
  xTicks: [0, 20, 40, 60, 80, 100], yTicks: [0, 50, 100, 150, 200], time: fTime,
  series: [
    { label: 'ShCtr', y: fShCtr, err: fShCtrErr, color: '#ff0000', style: 'circle', r: 12, order: 0 },
    { label: 'ShRorc', y: fShRorc, err: fShRorcErr, color: '#008000', style: 'rect', r: 17, order: 3 },
    { label: 'ShMyc', y: fShMyc, err: fShMycErr, color: '#0000cc', style: 'triangle', r: 14, order: 2 },
    { label: 'ShRorc+ShMyc', y: fShRorcMyc, err: fShRorcMycErr, color: '#cc0066', style: 'triangle', rot: 180, r: 14, order: 1 }],
  lineW: 5, errW: 5, capW: 12, tickLen: 14,
  tickFont: { family: ARIAL, size: 33, weight: 'bold' },
  title: 'OCR(pmol/min)', titleX: 59, titleFont: { weight: 'bold', size: 40, family: ARIAL },
  xTitle: 'Time (min)', xTitleX: 497, xTitleY: 3516, xTitleFont: { weight: 'bold', size: 48, family: ARIAL },
  legend: [{ i: 0, x1: 71, x2: 135, y: 2921, tx: 173 }, { i: 2, x1: 342, x2: 408, y: 2921, tx: 444 },
           { i: 1, x1: 69, x2: 133, y: 2965, tx: 173 }, { i: 3, x1: 342, x2: 408, y: 2965, tx: 444 }],
  legendFont: 'normal 40px ' + DEJAVU,
  vlines: fInject, vlineTop: 188, vlineLabelY: 197, vlineFont: 'normal 34px ' + DEJAVU
});

// I growth
linePanel({
  plot: { l: 2038, t: 2977, r: 2350, b: 3373 }, xmin: -0.9, xmax: 84.6, ymin: 0, ymax: 100,
  xTicks: [0, 24, 48, 72], yTicks: [0, 20, 40, 60, 80, 100], time: iTime,
  series: [
    { label: 'ShCtr', y: iShCtr, err: iShCtrErr, color: '#ff0000', style: 'circle', r: 10, order: 1 },
    { label: 'ShRorc', y: iShRorc, err: iShRorcErr, color: '#008000', style: 'rect', r: 17, order: 0 },
    { label: 'ShMyc', y: iShMyc, err: iShMycErr, color: '#0000cc', style: 'triangle', r: 13, order: 3 },
    { label: 'ShRorc+ShMyc', y: iShRorcMyc, err: iShRorcMycErr, color: '#cc0066', style: 'triangle', rot: 180, r: 13, order: 2 }],
  lineW: 5, errW: 5, capW: 11, tickLen: 16,
  tickFont: { family: DEJAVU, size: 32, weight: 'bold' },
  stars: iStars, starFont: 'normal 40px ' + ARIAL, starSpacing: '5px',
  title: 'Cell numbers (10^{5})', titleX: 1915, titleFont: { weight: 'bold', size: 46, family: ARIAL, cond: 0.82 },
  xTitle: 'Culture time (h)', xTitleX: 2196, xTitleY: 3466, xTitleFont: { weight: 'bold', size: 35, family: DEJAVU },
  legend: [{ i: 0, x1: 1987, x2: 2042, y: 2785, tx: 2076 }, { i: 1, x1: 1987, x2: 2042, y: 2832, tx: 2076 },
           { i: 2, x1: 1987, x2: 2042, y: 2877, tx: 2076 }, { i: 3, x1: 1987, x2: 2042, y: 2924, tx: 2076 }],
  legendFont: 'bold 35px ' + DEJAVU
});

// panel letters
letter('A', 8, 13, 56); letter('B', 1056, 12, 54); letter('C', 6, 1135, 58);
letter('D', 1851, 1159, 64); letter('E', 46, 2236, 60); letter('F', 20, 2865, 58);
letter('G', 821, 2881, 46); letter('H', 1358, 2881, 49); letter('I', 1900, 2775, 64);

// histogram axis labels
arrowLabel(71, 155, 451, 'PS6', 161, 453);
arrowLabel(376, 449, 451, 'p-mTOR Ser2448', 455, 453);
arrowLabel(754, 838, 451, 'CD71', 845, 453);
arrowLabel(1120, 1206, 440, 'C-myc', 1223, 443);
arrowLabel(1481, 1568, 450, 'CD71', 1574, 453);
arrowLabel(1845, 1934, 449, 'CD98', 1939, 452);
arrowLabel(2200, 2287, 450, 'Ki67', 2294, 453);
arrowLabel(93, 195, 1627, 'c-Myc', 204, 1630);
arrowLabel(508, 613, 1628, 'CD71', 624, 1631);
arrowLabel(928, 1031, 1634, 'CD98', 1042, 1637);
arrowLabel(1347, 1451, 1642, 'Ki67', 1459, 1645);

// stray marks present in the original figure
txt('-', 862, 3400, 'font:bold 40px ' + ARIAL);
txt('\u02CC', 1202, 1770, 'font:bold 30px ' + ARIAL);
</script>
</body>
</html>
